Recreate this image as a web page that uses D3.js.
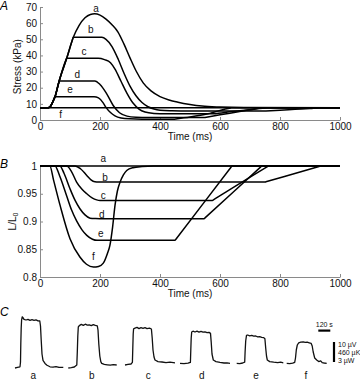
<!DOCTYPE html>
<html>
<head>
<meta charset="utf-8">
<script src="https://cdn.jsdelivr.net/npm/d3@7"></script>
<style>
    body { margin: 0; background: #fff; }
    svg { display: block; font-family: "Liberation Sans", Arial, sans-serif; }
    .axis path, .axis line { stroke: #8a8a8a; }
    .axis text { font-family: "Liberation Sans", Arial, sans-serif; font-size: 10px; fill: #111; }
    .curve { fill: none; stroke: #000; stroke-width: 1.5; }
    .trace { fill: none; stroke: #111; stroke-width: 1.3; stroke-linejoin: round; }
    .lbl { font-size: 10px; fill: #111; }
    .panel { font-size: 12px; font-style: italic; fill: #000; }
    .small { font-size: 7px; fill: #111; }
</style>
</head>
<body>
<svg id="chart" width="360" height="382"></svg>
<script>
'use strict';

// ticks
const timeTicks = [0, 200, 400, 600, 800, 1000];
const stressTicks = [0, 10, 20, 30, 40, 50, 60, 70];
const lengthTicks = [0.8, 0.85, 0.9, 0.95, 1];
const curveNames = ['a', 'b', 'c', 'd', 'e', 'f'];

// panel A: stress (kPa) vs time (ms)
const stressA = [[0, 7.6], [28, 7.6], [35, 8.5], [42, 11], [50, 14.4], [64, 24.2], [89, 38.2], [111, 51.2],
    [130, 58.5], [150, 63.3], [168, 65.4], [182, 65.8], [200, 65], [220, 62.5], [240, 59], [260, 54.5],
    [280, 47], [300, 38.5], [320, 30.5], [344, 23], [370, 18], [400, 14.5], [430, 12.4], [460, 11],
    [500, 9.6], [540, 8.6], [600, 8], [680, 7.7], [1000, 7.6]];
const stressB = [[0, 7.6], [28, 7.6], [35, 8.5], [42, 11], [50, 14.4], [64, 24.2], [89, 38.2], [108, 49.6],
    [111, 51.2], [206, 51.2], [220, 50], [240, 45.5], [261, 37.5], [280, 29], [300, 21], [320, 15],
    [340, 10.8], [360, 8.2], [380, 6.8], [400, 6.1], [440, 5.7], [500, 5.5], [750, 5.5], [753, 5.53],
    [800, 6], [850, 6.6], [900, 7.15], [932, 7.58], [935, 7.6], [1000, 7.6]];
const stressC = [[0, 7.6], [28, 7.6], [35, 8.5], [42, 11], [50, 14.4], [64, 24.2], [86, 37], [89, 38.2],
    [194, 38.2], [215, 37.4], [235, 35.5], [250, 31.5], [270, 24], [290, 16.5], [310, 10.5], [330, 6.8],
    [350, 5], [380, 4.1], [420, 3.8], [575, 3.8], [578, 3.84], [640, 5.2], [700, 6.4], [758, 7.55],
    [762, 7.6], [1000, 7.6]];
const stressD = [[0, 7.6], [28, 7.6], [35, 8.5], [42, 11], [50, 14.4], [62, 23], [64, 24.2], [183, 24.2],
    [200, 22], [220, 17], [244, 9], [265, 4.5], [290, 2.4], [320, 1.7], [360, 1.5], [547, 1.5],
    [550, 1.6], [600, 3.2], [670, 5.4], [735, 7.5], [739, 7.6], [1000, 7.6]];
const stressE = [[0, 7.6], [28, 7.6], [35, 8.5], [42, 11], [48, 13.8], [50, 14.4], [180, 14.4],
    [195, 13.7], [210, 10.8], [220, 7.8], [235, 4.6], [250, 2.6], [270, 1.3], [300, 0.7], [340, 0.5],
    [450, 0.5], [453, 0.6], [500, 1.9], [560, 3.9], [636, 7.5], [640, 7.6], [1000, 7.6]];
const stressF = [[0, 7.6], [1000, 7.6]];
const stressLabels = [[187, 68.8], [169, 55.8], [147, 42.3], [124, 27.9], [100, 18.6], [69, 3.1]];

// panel B: L/L0 vs time (ms)
const lengthA = [[0, 1], [1000, 1]];
const lengthB = [[0, 1], [117, 1], [135, 0.995], [156, 0.983], [170, 0.975], [183, 0.9715], [195, 0.971],
    [750, 0.971], [753, 0.97147], [930, 0.9992], [935, 1], [1000, 1]];
const lengthC = [[0, 1], [89, 1], [105, 0.99], [122, 0.971], [140, 0.958], [156, 0.95], [175, 0.942],
    [189, 0.939], [200, 0.938], [575, 0.938], [578, 0.939], [758, 0.9987], [762, 1], [1000, 1]];
const lengthD = [[0, 1], [66, 1], [80, 0.987], [100, 0.959], [117, 0.938], [133, 0.923], [150, 0.912],
    [167, 0.906], [185, 0.9052], [200, 0.905], [547, 0.905], [550, 0.9065], [735, 0.998], [739, 1], [1000, 1]];
const lengthE = [[0, 1], [50, 1], [65, 0.983], [89, 0.946], [105, 0.921], [122, 0.901], [140, 0.885],
    [156, 0.875], [175, 0.868], [190, 0.866], [450, 0.866], [453, 0.8681], [636, 0.9972], [640, 1], [1000, 1]];
const lengthF = [[0, 1], [33, 1], [45, 0.975], [67, 0.929], [100, 0.869], [133, 0.836], [155, 0.823],
    [178, 0.818], [195, 0.819], [211, 0.825], [225, 0.843], [233, 0.857], [242, 0.89], [250, 0.929],
    [258, 0.955], [267, 0.971], [278, 0.984], [289, 0.992], [310, 0.997], [340, 0.999], [378, 1], [1000, 1]];
const lengthLabels = [[211, 1.0133], [217, 0.98], [211, 0.947], [206, 0.912], [203, 0.878], [178, 0.837]];

// panel C: heat traces, time (s) from trace start, signal (uV)
const heatStarts = [0, 533, 1100, 1650, 2217, 2717];
const heatLabelTimes = [183, 767, 1333, 1867, 2410, 2910];
const heatA = [[0, 0], [25, 0.3], [50, 0.6], [55, 3], [58, 12], [62, 20], [66, 24], [72, 25.6], [80, 25.2],
    [90, 24.3], [110, 24], [130, 24.3], [150, 23.8], [170, 24.2], [190, 23.8], [210, 24.1], [230, 23.6],
    [248, 23.5], [255, 21], [262, 14], [270, 7], [280, 3.8], [300, 2.3], [320, 1.4], [350, 0.6],
    [380, 0.4], [410, 0.7], [440, 0.3], [483, 0.35]];
const heatB = [[0, 0], [30, 0.2], [60, 0.5], [85, 1.5], [90, 8], [95, 16], [100, 20.5], [110, 21.2],
    [130, 21.8], [150, 21.3], [170, 21.9], [190, 21.4], [210, 21.6], [230, 21.2], [250, 21.7], [270, 21.3],
    [290, 21.1], [297, 19], [305, 12], [315, 6], [325, 3.2], [334, 2.3], [360, 1.8], [390, 1.6],
    [420, 1.4], [450, 1.7], [484, 1.5]];
const heatC = [[0, 1.5], [30, 1.8], [60, 2], [74, 2.8], [78, 10], [82, 17], [86, 19.6], [100, 19.9],
    [120, 20.3], [140, 19.7], [160, 20.2], [180, 19.8], [200, 20.2], [220, 19.7], [245, 19.9], [264, 19.5],
    [272, 15], [280, 9], [290, 5.5], [300, 4], [330, 3.2], [370, 3], [410, 2.7], [450, 2.9], [500, 2.6]];
const heatD = [[0, 2.3], [40, 2.2], [80, 2.4], [104, 2.8], [108, 9], [112, 15], [117, 18], [130, 18.4],
    [150, 18], [170, 18.4], [190, 17.9], [210, 18.3], [230, 17.9], [250, 18.1], [270, 17.7], [290, 17.8],
    [305, 17.3], [312, 13], [320, 7], [333, 4], [360, 3.2], [400, 2.8], [440, 2.5], [470, 2.6], [500, 2.3]];
const heatE = [[0, 2.3], [30, 2.2], [60, 2.5], [80, 2.9], [84, 8], [90, 13.5], [98, 16.3], [110, 16.5],
    [130, 16.1], [150, 16.3], [170, 15.9], [190, 16], [210, 15.6], [230, 15.7], [250, 15.3], [270, 15.2],
    [282, 14.6], [290, 10], [298, 6], [306, 4], [330, 3.2], [370, 2.9], [410, 2.7], [440, 2.9], [466, 2.6]];
const heatF = [[0, 2.3], [30, 2.2], [60, 2.4], [80, 2.8], [88, 5], [96, 9], [106, 11.5], [120, 12.6],
    [140, 12.9], [165, 13.1], [185, 12.8], [205, 12.9], [225, 12.6], [245, 12.3], [255, 11], [265, 8],
    [280, 5], [300, 4], [320, 3.2], [340, 3.6], [355, 2.7], [375, 2.5], [400, 2.3]];
const heatBarTime = [3033, 120];
const heatBarSignal = [3, 10];
const heatBarTexts = ['10 \u00b5V', '460 \u00b5K', '3 \u00b5W'];

(function () {
    const d3 = window.d3;
    const svg = d3.select('#chart');

    const x = d3.scaleLinear().domain([0, 1000]).range([40, 340]);
    const yStress = d3.scaleLinear().domain([0, 70]).range([120, 7]);
    const yLength = d3.scaleLinear().domain([0.8, 1]).range([277, 166]);

    const heatX = d3.scaleLinear().domain([0, 3200]).range([15, 335]);
    const heatY = d3.scaleLinear().domain([0, 25]).range([368, 318]);

    function axes(yScale, yTicks, bottom) {
        svg.append('g')
            .attr('class', 'axis')
            .attr('transform', 'translate(0,' + bottom + ')')
            .call(d3.axisBottom(x)
                .tickValues(timeTicks)
                .tickFormat(d3.format('d'))
                .tickSize(-3)
                .tickSizeOuter(0)
                .tickPadding(3));

        svg.append('g')
            .attr('class', 'axis')
            .attr('transform', 'translate(40,0)')
            .call(d3.axisLeft(yScale)
                .tickValues(yTicks)
                .tickFormat(d => String(d))
                .tickSize(-3)
                .tickSizeOuter(0)
                .tickPadding(3));

        svg.append('text')
            .attr('class', 'lbl')
            .attr('x', x(500))
            .attr('y', bottom + 20)
            .attr('text-anchor', 'middle')
            .text('Time (ms)');
    }

    // panel A
    axes(yStress, stressTicks, 120);

    const lineA = d3.line()
        .x(d => x(d[0]))
        .y(d => yStress(d[1]))
        .curve(d3.curveMonotoneX);

    svg.append('g')
        .selectAll('path')
        .data([stressA, stressB, stressC, stressD, stressE, stressF])
        .join('path')
        .attr('class', 'curve')
        .attr('d', lineA);

    svg.append('g')
        .selectAll('text')
        .data(stressLabels)
        .join('text')
        .attr('class', 'lbl')
        .attr('x', d => x(d[0]))
        .attr('y', d => yStress(d[1]))
        .attr('dy', '0.35em')
        .attr('text-anchor', 'middle')
        .text((d, i) => curveNames[i]);

    svg.append('text')
        .attr('class', 'lbl')
        .attr('transform', 'translate(21,' + yStress(33) + ') rotate(-90)')
        .attr('text-anchor', 'middle')
        .text('Stress (kPa)');

    svg.append('text').attr('class', 'panel').attr('x', 0).attr('y', 10).text('A');

    // panel B
    axes(yLength, lengthTicks, 277);

    const lineB = d3.line()
        .x(d => x(d[0]))
        .y(d => yLength(d[1]))
        .curve(d3.curveMonotoneX);

    svg.append('g')
        .selectAll('path')
        .data([lengthA, lengthB, lengthC, lengthD, lengthE, lengthF])
        .join('path')
        .attr('class', 'curve')
        .attr('d', lineB);

    svg.append('g')
        .selectAll('text')
        .data(lengthLabels)
        .join('text')
        .attr('class', 'lbl')
        .attr('x', d => x(d[0]))
        .attr('y', d => yLength(d[1]))
        .attr('dy', '0.35em')
        .attr('text-anchor', 'middle')
        .text((d, i) => curveNames[i]);

    const yLabel = svg.append('text')
        .attr('class', 'lbl')
        .attr('transform', 'translate(16,' + yLength(0.9) + ') rotate(-90)')
        .attr('text-anchor', 'middle');
    yLabel.append('tspan').text('L/L');
    yLabel.append('tspan').attr('font-size', '7px').attr('dy', '2').text('0');

    svg.append('text').attr('class', 'panel').attr('x', 0).attr('y', 168).text('B');

    // panel C
    const heatLine = d3.line()
        .x(d => heatX(d[0]))
        .y(d => heatY(d[1]));

    const traces = [heatA, heatB, heatC, heatD, heatE, heatF]
        .map((tr, i) => tr.map(p => [p[0] + heatStarts[i], p[1]]));

    svg.append('g')
        .selectAll('path')
        .data(traces)
        .join('path')
        .attr('class', 'trace')
        .attr('d', heatLine);

    svg.append('g')
        .selectAll('text')
        .data(heatLabelTimes)
        .join('text')
        .attr('class', 'lbl')
        .attr('x', d => heatX(d))
        .attr('y', 379)
        .attr('text-anchor', 'middle')
        .text((d, i) => curveNames[i]);

    svg.append('line')
        .attr('x1', heatX(heatBarTime[0]))
        .attr('x2', heatX(heatBarTime[0] + heatBarTime[1]))
        .attr('y1', heatY(18.7))
        .attr('y2', heatY(18.7))
        .attr('stroke', '#000')
        .attr('stroke-width', 2.2);

    svg.append('text')
        .attr('class', 'small')
        .attr('x', heatX(heatBarTime[0] + heatBarTime[1] / 2))
        .attr('y', heatY(18.7) - 4)
        .attr('text-anchor', 'middle')
        .text('120 s');

    const barX = heatX(3190);
    svg.append('line')
        .attr('x1', barX)
        .attr('x2', barX)
        .attr('y1', heatY(heatBarSignal[0]))
        .attr('y2', heatY(heatBarSignal[0] + heatBarSignal[1]))
        .attr('stroke', '#000')
        .attr('stroke-width', 2.2);

    svg.append('g')
        .selectAll('text')
        .data(heatBarTexts)
        .join('text')
        .attr('class', 'small')
        .attr('x', barX + 4)
        .attr('y', (d, i) => heatY(heatBarSignal[0] + heatBarSignal[1]) + 4.5 + i * 8)
        .text(d => d);

    svg.append('text').attr('class', 'panel').attr('x', 0).attr('y', 316).text('C');
})();
</script>
</body>
</html>
